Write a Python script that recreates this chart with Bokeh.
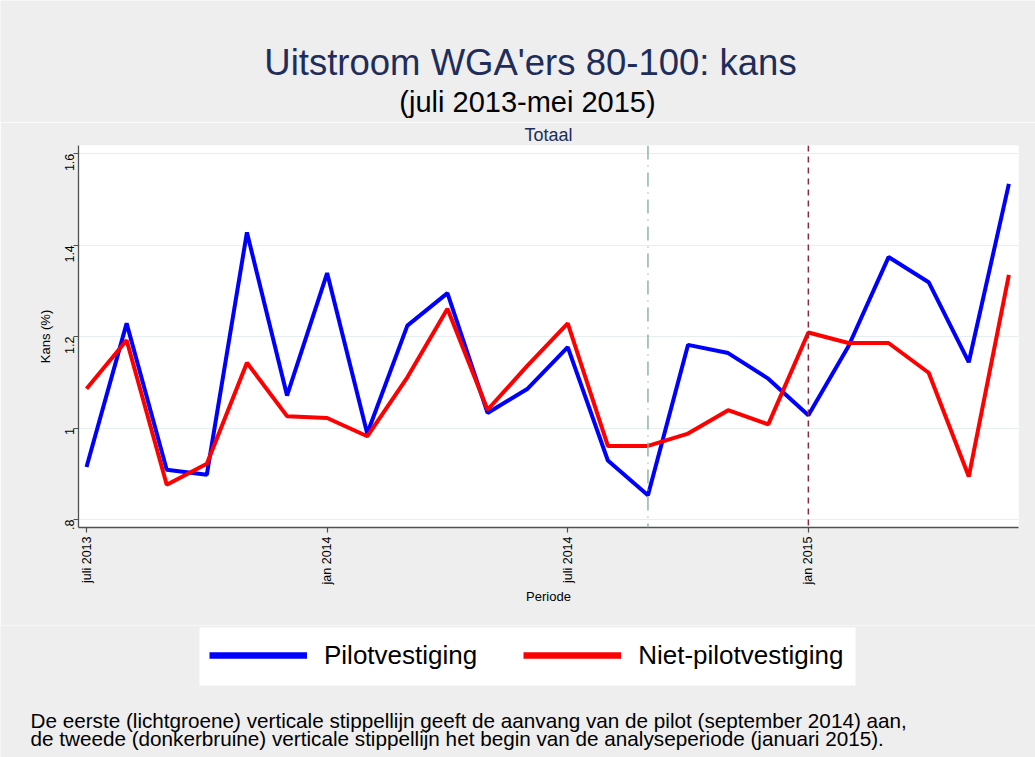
from bokeh.plotting import figure
from bokeh.layouts import column
from bokeh.models import Range1d, FixedTicker, Span, Label, Legend, LegendItem, BoxAnnotation
from bokeh.embed import file_html
from bokeh.resources import INLINE

# ---- data ----
periods = ["jul 2013", "aug 2013", "sep 2013", "okt 2013", "nov 2013", "dec 2013",
           "jan 2014", "feb 2014", "mrt 2014", "apr 2014", "mei 2014", "jun 2014",
           "jul 2014", "aug 2014", "sep 2014", "okt 2014", "nov 2014", "dec 2014",
           "jan 2015", "feb 2015", "mrt 2015", "apr 2015", "mei 2015", "jun 2015"]
pilot = [0.915, 1.229, 0.909, 0.898, 1.428, 1.071, 1.339, 0.988, 1.224, 1.295,
         1.033, 1.086, 1.177, 0.929, 0.853, 1.182, 1.164, 1.108, 1.028, 1.179,
         1.374, 1.319, 1.144, 1.534]
niet_pilot = [1.086, 1.192, 0.876, 0.922, 1.143, 1.026, 1.022, 0.982, 1.111, 1.261,
              1.040, 1.137, 1.229, 0.961, 0.961, 0.988, 1.039, 1.008, 1.209, 1.186,
              1.186, 1.121, 0.894, 1.335]
x_tick_labels = ["juli 2013", "jan 2014", "juli 2014", "jan 2015"]
x_tick_periods = ["jul 2013", "jan 2014", "jul 2014", "jan 2015"]
y_ticks = [0.8, 1.0, 1.2, 1.4, 1.6]
y_tick_labels = [".8", "1", "1.2", "1.4", "1.6"]
pilot_start = "sep 2014"
analysis_start = "jan 2015"
series_names = ["Pilotvestiging", "Niet-pilotvestiging"]
series_colors = ["#0000ff", "#ff0000"]
title = "Uitstroom WGA'ers 80-100: kans"
subtitle = "(juli 2013-mei 2015)"
panel_title = "Totaal"
notes = ["De eerste (lichtgroene) verticale stippellijn geeft de aanvang van de pilot (september 2014) aan,",
         "de tweede (donkerbruine) verticale stippellijn het begin van de analyseperiode (januari 2015)."]

x = list(range(len(periods)))
FONT = "Liberation Sans"
NAVY = "#1e2d5a"
BG = "#eeeeee"
W = 1035
TOP_H = 122
MAIN_TOP = 23
FRAME_H = 382
MAIN_BOT = 98
MAIN_H = MAIN_TOP + FRAME_H + MAIN_BOT
BOT_Y0 = TOP_H + MAIN_H
BOT_H = 757 - BOT_Y0


def blank(height, top):
    f = figure(width=W, height=height, output_backend="svg", toolbar_location=None,
               x_range=Range1d(0, W), y_range=Range1d(top + height, top),
               x_axis_location=None, y_axis_location=None,
               min_border=0, background_fill_color=BG, border_fill_color=BG,
               outline_line_color=None, frame_align=False)
    f.grid.grid_line_color = None
    return f


def lab(f, text, px, py, size, color="black", align="left"):
    f.add_layout(Label(x=px, y=py, text=text, text_font=FONT, text_font_size=size,
                       text_color=color, text_align=align, text_baseline="alphabetic"))


# ---- top: titles ----
top = blank(TOP_H, 0)
lab(top, title, 530, 62, "36.5px", NAVY, "center")
lab(top, subtitle, 527, 101, "29px", "black", "center")

# ---- main plot ----
p = figure(width=W, height=MAIN_H, output_backend="svg", toolbar_location=None,
           x_range=Range1d(-0.2, 23.24), y_range=Range1d(0.7825, 1.618),
           min_border_left=78, min_border_right=17, min_border_top=MAIN_TOP,
           min_border_bottom=MAIN_BOT, background_fill_color="white",
           border_fill_color=BG, outline_line_color=None, frame_align=False)
p.title.text = panel_title
p.title.align = "center"
p.title.text_font = FONT
p.title.text_font_size = "18px"
p.title.text_font_style = "normal"
p.title.text_color = NAVY
p.title.standoff = 1

p.xgrid.grid_line_color = None
p.ygrid.grid_line_color = "#e6eef0"
p.ygrid.grid_line_width = 1

p.yaxis.ticker = FixedTicker(ticks=y_ticks)
p.yaxis.major_label_overrides = {t: l for t, l in zip(y_ticks, y_tick_labels)}
p.xaxis.ticker = FixedTicker(ticks=[periods.index(s) for s in x_tick_periods])
p.xaxis.major_label_overrides = {periods.index(s): l for s, l in zip(x_tick_periods, x_tick_labels)}
for ax in (p.xaxis[0], p.yaxis[0]):
    ax.axis_line_color = "#505050"
    ax.axis_line_width = 1.3
    ax.major_tick_line_color = "#505050"
    ax.major_tick_line_width = 1.2
    ax.major_tick_out = 5
    ax.major_tick_in = 0
    ax.minor_tick_line_color = None
    ax.major_label_text_font = FONT
    ax.major_label_text_font_size = "12.5px"
    ax.major_label_text_color = "black"
    ax.major_label_orientation = 3.14159265 / 2
    ax.major_label_standoff = 4
    ax.axis_label_text_font = FONT
    ax.axis_label_text_font_size = "13px"
    ax.axis_label_text_font_style = "normal"
    ax.axis_label_text_color = "black"
p.yaxis.axis_label = "Kans (%)"
p.yaxis.axis_label_standoff = 5
p.xaxis.axis_label = "Periode"
p.xaxis.axis_label_standoff = 2

p.add_layout(Span(location=periods.index(pilot_start), dimension="height",
                  line_color="#8fb5aa", line_width=1.5, line_dash="14 6 1 6"))
p.add_layout(Span(location=periods.index(analysis_start), dimension="height",
                  line_color="#8b2a3a", line_width=1.5, line_dash="6 5"))

p.line(x, pilot, line_color=series_colors[0], line_width=4)
p.line(x, niet_pilot, line_color=series_colors[1], line_width=4)

# ---- bottom: legend + notes ----
bot = blank(BOT_H, BOT_Y0)
# white legend panel (page-pixel coordinates of this blank canvas)
bot.add_layout(BoxAnnotation(left=199, right=855, top=627, bottom=685,
                             fill_color="white", fill_alpha=1.0, line_color=None,
                             propagate_hover=False))
# legend swatch renderers (their data lies outside the visible range)
sw = [bot.line([-50, -40], [BOT_Y0 - 50, BOT_Y0 - 50], line_color=c, line_width=6.5)
      for c in series_colors]
legend = Legend(items=[LegendItem(label=n, renderers=[r]) for n, r in zip(series_names, sw)],
                orientation="horizontal", location=(209, 757 - 673),
                label_text_font=FONT, label_text_font_size="26px",
                label_text_color="black", glyph_width=98, glyph_height=36,
                label_height=36, label_standoff=17, spacing=46, padding=11, margin=0,
                label_text_baseline="middle",
                background_fill_color="white", background_fill_alpha=0.0,
                border_line_color=None)
bot.add_layout(legend, "center")
lab(bot, notes[0], 30, 720, "20.7px")
lab(bot, notes[1], 30, 738, "20.7px")

layout = column(top, p, bot, spacing=0)
open("out.html", "w").write(file_html(layout, INLINE))
